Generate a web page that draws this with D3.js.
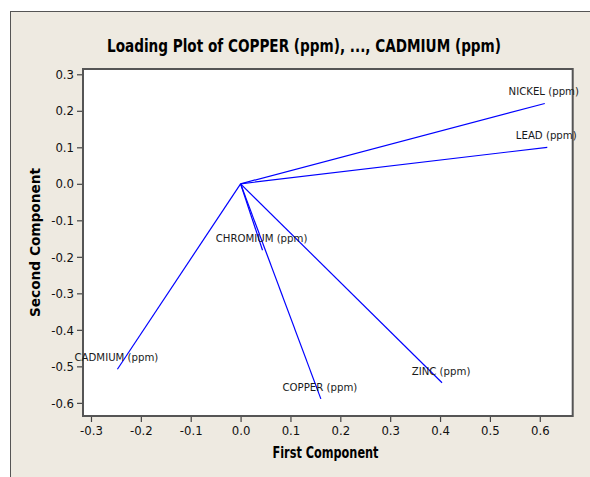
<!DOCTYPE html>
<html>
<head>
<meta charset="utf-8">
<script src="https://cdn.jsdelivr.net/npm/d3@7"></script>
<style>
  html, body { margin: 0; padding: 0; background: #ffffff; }
  svg { display: block; }
</style>
</head>
<body>
<svg id="chart" width="590" height="477"></svg>
<script>
// ---- data ----
const variables = ["COPPER (ppm)", "ZINC (ppm)", "LEAD (ppm)", "NICKEL (ppm)", "CHROMIUM (ppm)", "CADMIUM (ppm)"];
const firstComponent  = [0.161, 0.404, 0.615, 0.610, 0.044, -0.247];
const secondComponent = [-0.589, -0.545, 0.100, 0.220, -0.182, -0.508];
const xTicks = [-0.3, -0.2, -0.1, 0.0, 0.1, 0.2, 0.3, 0.4, 0.5, 0.6];
const yTicks = [0.3, 0.2, 0.1, 0.0, -0.1, -0.2, -0.3, -0.4, -0.5, -0.6];
const titleText = "Loading Plot of COPPER (ppm), ..., CADMIUM (ppm)";
const xTitle = "First Component";
const yTitle = "Second Component";

const W = 590, H = 477;
const plot = { left: 83, top: 69, right: 572.7, bottom: 416 };
const font = "'DejaVu Sans Condensed', 'DejaVu Sans', sans-serif";

const svg = d3.select("#chart");

// outer frame
svg.append("rect")
  .attr("x", 10.5).attr("y", 11.5)
  .attr("width", W).attr("height", H)
  .attr("fill", "#eeeae1")
  .attr("stroke", "#555").attr("stroke-width", 1);

// plot background
svg.append("rect")
  .attr("x", plot.left).attr("y", plot.top)
  .attr("width", plot.right - plot.left).attr("height", plot.bottom - plot.top)
  .attr("fill", "#ffffff");

const x = d3.scaleLinear().domain([-0.316, 0.666]).range([plot.left, plot.right]);
const y = d3.scaleLinear().domain([0.3145, -0.636]).range([plot.top, plot.bottom]);

const fmt = v => d3.format(".1f")(v).replace("\u2212", "-");

// axes
const xAxis = svg.append("g")
  .attr("transform", `translate(0,${plot.bottom})`)
  .call(d3.axisBottom(x).tickValues(xTicks).tickSize(6).tickPadding(4).tickFormat(fmt));
const yAxis = svg.append("g")
  .attr("transform", `translate(${plot.left},0)`)
  .call(d3.axisLeft(y).tickValues(yTicks).tickSize(6).tickPadding(3).tickFormat(fmt));

[xAxis, yAxis].forEach(g => {
  g.select(".domain").remove();
  g.selectAll(".tick line").attr("stroke", "#444").attr("stroke-width", 1.2);
  g.selectAll(".tick text")
    .attr("fill", "#111")
    .style("font-family", font)
    .style("font-size", "13px");
});

// plot border
svg.append("rect")
  .attr("x", plot.left).attr("y", plot.top)
  .attr("width", plot.right - plot.left).attr("height", plot.bottom - plot.top)
  .attr("fill", "none")
  .attr("stroke", "#555").attr("stroke-width", 2);

// loading vectors
const data = variables.map((v, i) => ({ name: v, pc1: firstComponent[i], pc2: secondComponent[i] }));

svg.append("g").selectAll("line")
  .data(data).join("line")
  .attr("x1", x(0)).attr("y1", y(0))
  .attr("x2", d => x(d.pc1)).attr("y2", d => y(d.pc2))
  .attr("stroke", "#0000ff").attr("stroke-width", 1.2);

svg.append("g").selectAll("text")
  .data(data).join("text")
  .attr("x", d => x(d.pc1) - 1)
  .attr("y", d => y(d.pc2) - 8)
  .attr("text-anchor", "middle")
  .attr("fill", "#1a1a1a")
  .style("font-family", font)
  .style("font-size", "11.3px")
  .text(d => d.name);

// titles
svg.append("text")
  .attr("x", 304).attr("y", 52)
  .attr("text-anchor", "middle")
  .attr("textLength", 394).attr("lengthAdjust", "spacingAndGlyphs")
  .attr("fill", "#000")
  .style("font-family", font).style("font-weight", "bold").style("font-size", "18.5px")
  .text(titleText);

svg.append("text")
  .attr("x", 325.5).attr("y", 457.5)
  .attr("text-anchor", "middle")
  .attr("textLength", 106).attr("lengthAdjust", "spacingAndGlyphs")
  .attr("fill", "#000")
  .style("font-family", font).style("font-weight", "bold").style("font-size", "15px")
  .text(xTitle);

svg.append("text")
  .attr("transform", "translate(39.5,242.5) rotate(-90)")
  .attr("text-anchor", "middle")
  .attr("textLength", 149).attr("lengthAdjust", "spacingAndGlyphs")
  .attr("fill", "#000")
  .style("font-family", font).style("font-weight", "bold").style("font-size", "14px")
  .text(yTitle);
</script>
</body>
</html>
